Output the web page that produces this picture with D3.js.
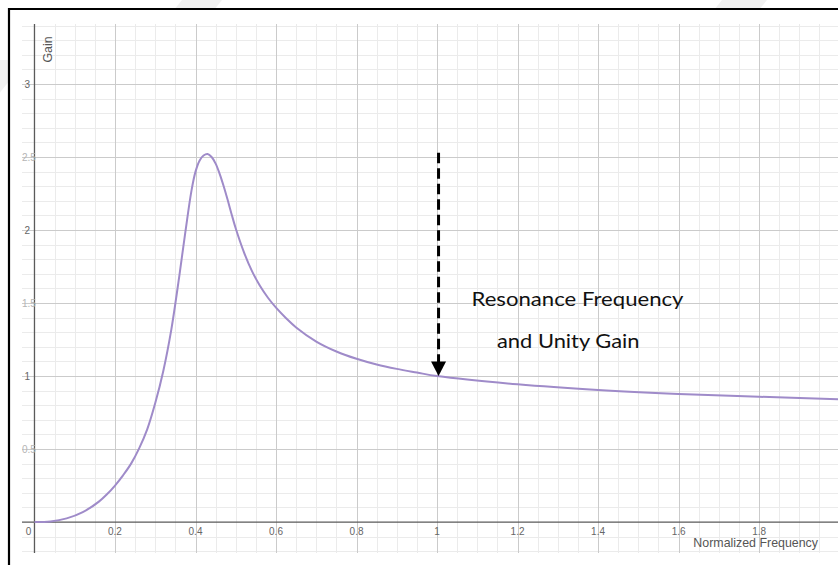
<!DOCTYPE html>
<html>
<head>
<meta charset="utf-8">
<script src="https://cdn.jsdelivr.net/npm/d3@7/dist/d3.min.js"></script>
<style>
  html, body { margin: 0; padding: 0; background: #fff; }
  svg { display: block; }
</style>
</head>
<body>
<svg id="chart" width="838" height="565"></svg>
<script>
// Gain vs normalized frequency, read point by point
const freq = [0, 0.04, 0.08, 0.12, 0.16, 0.18, 0.20, 0.22, 0.24, 0.26, 0.28, 0.30, 0.32, 0.34, 0.36, 0.375, 0.39,
              0.40, 0.41, 0.42, 0.43, 0.44, 0.45, 0.46, 0.47, 0.48, 0.49, 0.50, 0.52, 0.54, 0.56,
              0.58, 0.60, 0.625, 0.65, 0.70, 0.75, 0.80, 0.85, 0.90, 0.95, 1.0,
              1.2, 1.4, 1.6, 1.8, 2.0];
const gain = [0, 0.004, 0.025, 0.068, 0.14, 0.19, 0.25, 0.32, 0.40, 0.505, 0.635, 0.815, 1.035, 1.32, 1.69, 1.99, 2.27,
              2.40, 2.475, 2.51, 2.52, 2.50, 2.455, 2.385, 2.30, 2.205, 2.105, 2.01, 1.85, 1.72, 1.618,
              1.536, 1.468, 1.396, 1.333, 1.236, 1.168, 1.118, 1.079, 1.049, 1.024, 1.0,
              0.943, 0.904, 0.877, 0.858, 0.84];

const xTickValues = [0.2, 0.4, 0.6, 0.8, 1, 1.2, 1.4, 1.6, 1.8];
const xTickLabels = ["0.2", "0.4", "0.6", "0.8", "1", "1.2", "1.4", "1.6", "1.8"];
const yTickValues = [0.5, 1, 1.5, 2, 2.5, 3];
const yTickLabels = ["0.5", "1", "1.5", "2", "2.5", "3"];

const xTitle = "Normalized Frequency";
const yTitle = "Gain";
const noteLines = ["Resonance Frequency", "and Unity Gain"];
const markerX = 1;          // resonance point
const markerGain = 1;       // unity gain
const markerTop = 2.53;     // where the dashed pointer starts

(function draw() {
  const svg = d3.select("#chart");
  const W = 838, H = 565;

  // plot window
  const pL = 22, pR = 838, pT = 24, pB = 553;
  const x = d3.scaleLinear().domain([-0.031, 1.996]).range([pL, pR]);
  const y = d3.scaleLinear().domain([-0.212, 3.411]).range([pB, pT]);

  // faint background bands in the page margin
  const bands = svg.append("g").attr("fill", "#f1f1f1");
  [[-40, 70, 26], [150, 0, 40], [690, 0, 45]].forEach(([bx, by, bw]) => {
    bands.append("path")
      .attr("d", `M${bx},${by + 40} L${bx + 40},${by - 10} L${bx + 40 + bw},${by - 10} L${bx + bw},${by + 40} Z`);
  });

  // outer frame (left and top edges visible)
  svg.append("rect").attr("x", 10).attr("y", 10).attr("width", W).attr("height", H)
    .attr("fill", "#fff");
  svg.append("path").attr("d", `M9,${H} V9 H${W}`).attr("fill", "none")
    .attr("stroke", "#000").attr("stroke-width", 2.2);

  svg.append("defs").append("clipPath").attr("id", "plotclip")
    .append("rect").attr("x", pL).attr("y", pT).attr("width", pR - pL).attr("height", pB - pT);

  const plot = svg.append("g").attr("clip-path", "url(#plotclip)");

  // grid: minor every 0.05 / 0.1, major every 0.2 / 0.5
  const xMinor = d3.range(-1, 41).map(i => +(i * 0.05).toFixed(2));
  const yMinor = d3.range(-3, 35).map(i => +(i * 0.1).toFixed(1));
  const isXMajor = v => Math.abs(v / 0.2 - Math.round(v / 0.2)) < 1e-6;
  const isYMajor = v => Math.abs(v / 0.5 - Math.round(v / 0.5)) < 1e-6;
  const px = v => Math.round(v) + 0.5;

  plot.append("g").selectAll("line").data(xMinor.filter(v => !isXMajor(v))).join("line")
    .attr("x1", d => px(x(d))).attr("x2", d => px(x(d)))
    .attr("y1", pT).attr("y2", pB).attr("stroke", "#ebebeb").attr("stroke-width", 1);
  plot.append("g").selectAll("line").data(yMinor.filter(v => !isYMajor(v))).join("line")
    .attr("y1", d => px(y(d))).attr("y2", d => px(y(d)))
    .attr("x1", pL).attr("x2", pR).attr("stroke", "#ebebeb").attr("stroke-width", 1);
  plot.append("g").selectAll("line").data(xMinor.filter(v => isXMajor(v) && v !== 0)).join("line")
    .attr("x1", d => px(x(d))).attr("x2", d => px(x(d)))
    .attr("y1", pT).attr("y2", pB).attr("stroke", "#cbcbcb").attr("stroke-width", 1);
  plot.append("g").selectAll("line").data(yMinor.filter(v => isYMajor(v) && v !== 0)).join("line")
    .attr("y1", d => px(y(d))).attr("y2", d => px(y(d)))
    .attr("x1", pL).attr("x2", pR).attr("stroke", "#cbcbcb").attr("stroke-width", 1);

  // axes
  plot.append("line").attr("x1", x(0)).attr("x2", x(0)).attr("y1", pT).attr("y2", pB)
    .attr("stroke", "#5a5a5a").attr("stroke-width", 1.3);
  plot.append("line").attr("y1", y(0)).attr("y2", y(0)).attr("x1", pL).attr("x2", pR)
    .attr("stroke", "#5a5a5a").attr("stroke-width", 1.3);

  // tick labels
  const tickFont = "'Liberation Sans', Arial, sans-serif";
  const xl = svg.append("g").attr("font-family", tickFont).attr("font-size", 10).attr("fill", "#666");
  xl.selectAll("text").data(xTickValues).join("text")
    .attr("x", d => x(d)).attr("y", y(0) + 13).attr("text-anchor", "middle")
    .text((d, i) => xTickLabels[i]);
  xl.append("text").attr("x", x(0) - 6).attr("y", y(0) + 13).attr("text-anchor", "middle").text("0");

  const yl = svg.append("g").attr("font-family", tickFont).attr("font-size", 10);
  yl.selectAll("text").data(yTickValues).join("text")
    .attr("y", d => y(d) + 3.6)
    .attr("fill", d => Number.isInteger(d) ? "#666" : "#b5b5b5")
    .text((d, i) => yTickLabels[i])
    .each(function () {
      const w = this.getComputedTextLength();
      d3.select(this).attr("x", Math.max(pL, x(0) - 4.5 - w));
    });

  // axis titles
  svg.append("text").attr("font-family", tickFont).attr("font-size", 12.4).attr("fill", "#555")
    .attr("text-anchor", "end").attr("x", 818).attr("y", 547).text(xTitle);
  svg.append("text").attr("font-family", tickFont).attr("font-size", 12.4).attr("fill", "#555")
    .attr("text-anchor", "middle")
    .attr("transform", `translate(${x(0) + 18},${49.5}) rotate(-90)`).text(yTitle);

  // gain curve
  const line = d3.line().x((d, i) => x(freq[i])).y(d => y(d)).curve(d3.curveCatmullRom.alpha(0.5));
  plot.append("path").datum(gain).attr("d", line)
    .attr("fill", "none").attr("stroke", "#9f8bc9").attr("stroke-width", 2);

  // dashed pointer to the resonance / unity-gain point
  const ax = x(markerX) + 1.5;
  const tipY = y(markerGain);
  svg.append("line").attr("x1", ax).attr("x2", ax)
    .attr("y1", y(markerTop)).attr("y2", tipY - 13)
    .attr("stroke", "#000").attr("stroke-width", 3).attr("stroke-dasharray", "10.5,5");
  svg.append("path")
    .attr("d", `M${ax - 7.5},${tipY - 14.5} L${ax + 7.5},${tipY - 14.5} L${ax},${tipY} Z`)
    .attr("fill", "#000");

  // annotation
  const note = svg.append("g").attr("font-family", "Lato, 'Open Sans', sans-serif").attr("fill", "#111");
  note.append("text").attr("x", 471.5).attr("y", 305.5).attr("font-size", 19).text(noteLines[0])
    .attr("textLength", 212).attr("lengthAdjust", "spacingAndGlyphs");
  note.append("text").attr("x", 497).attr("y", 348.3).attr("font-size", 19).text(noteLines[1])
    .attr("textLength", 142.5).attr("lengthAdjust", "spacingAndGlyphs");
})();
</script>
</body>
</html>
